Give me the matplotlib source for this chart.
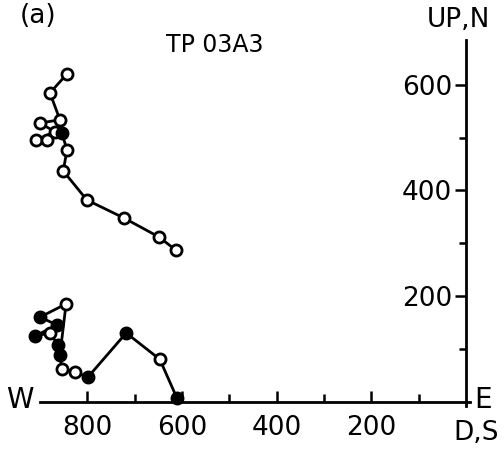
import matplotlib
matplotlib.use("Agg")
import matplotlib.pyplot as plt
from matplotlib.ticker import FixedLocator

# Demagnetisation path of specimen TP03A3, orthogonal projection
# Vertical plane (UP) - open circles
up_x = [843, 879, 858, 900, 868, 909, 885, 854, 843, 851, 801, 723, 649, 613]
up_y = [621, 585, 534, 528, 511, 496, 496, 509, 477, 437, 382, 348, 312, 287]
up_filled = [False, False, False, False, False, False, False, True,
             False, False, False, False, False, False]

# Horizontal plane (N) - mostly filled circles
hz_x = [611, 647, 718, 799, 826, 854, 858, 845, 900, 864, 911, 879, 862]
hz_y = [7, 80, 130, 46, 56, 62, 88, 185, 160, 145, 124, 130, 107]
hz_filled = [True, False, True, True, False, False, True, False, True,
             True, True, False, True]

x_ticks = [800, 600, 400, 200]
x_minor = [700, 500, 300, 100]
y_ticks = [600, 400, 200]
y_minor = [500, 300, 100]

fig = plt.figure(figsize=(5.04, 4.5), dpi=100)
ax = fig.add_axes([0, 0, 1, 1])
ax.set_xlim(984.6, -80.3)
ax.set_ylim(-91.9, 761.1)

lw = 2.0
ms = 8

for xs, ys, filled in [(up_x, up_y, up_filled), (hz_x, hz_y, hz_filled)]:
    ax.plot(xs, ys, '-', color='black', lw=lw, zorder=2)
    for x, y, f in zip(xs, ys, filled):
        ax.plot(x, y, 'o', ms=ms, mec='black', mew=2.0,
                mfc='black' if f else 'white', zorder=3)

# axes through the origin
for s in ['top', 'right']:
    ax.spines[s].set_visible(False)
ax.spines['left'].set_position(('data', 0))
ax.spines['bottom'].set_position(('data', 0))
ax.spines['left'].set_bounds(-8, 685)
ax.spines['bottom'].set_bounds(-8, 900)
ax.spines['left'].set_linewidth(2.0)
ax.spines['bottom'].set_linewidth(2.0)

ax.xaxis.set_major_locator(FixedLocator(x_ticks))
ax.xaxis.set_minor_locator(FixedLocator(x_minor))
ax.yaxis.set_major_locator(FixedLocator(y_ticks))
ax.yaxis.set_minor_locator(FixedLocator(y_minor))
ax.set_xticklabels([str(t) for t in x_ticks])
ax.set_yticklabels([str(t) for t in y_ticks])

ax.tick_params(axis='x', which='both', direction='in', width=1.8,
               labelsize=19, pad=10)
ax.tick_params(axis='x', which='major', length=8)
ax.tick_params(axis='x', which='minor', length=6)
ax.tick_params(axis='y', which='both', direction='out', width=1.8,
               labelsize=19, pad=2)
ax.tick_params(axis='y', which='major', length=8)
ax.tick_params(axis='y', which='minor', length=5)

ax.text(0.04, 0.111, 'W', transform=ax.transAxes, fontsize=20,
        ha='center', va='center')
ax.text(0.958, 0.111, 'E', transform=ax.transAxes, fontsize=20,
        ha='center', va='center')
ax.text(0.945, 0.038, 'D,S', transform=ax.transAxes, fontsize=19,
        ha='center', va='center')
ax.text(0.91, 0.955, 'UP,N', transform=ax.transAxes, fontsize=19,
        ha='center', va='center')
ax.text(0.427, 0.9, 'TP 03A3', transform=ax.transAxes, fontsize=17,
        ha='center', va='center')
ax.text(0.075, 0.965, '(a)', transform=ax.transAxes, fontsize=19,
        ha='center', va='center')

fig.savefig('out.png', dpi=100)
